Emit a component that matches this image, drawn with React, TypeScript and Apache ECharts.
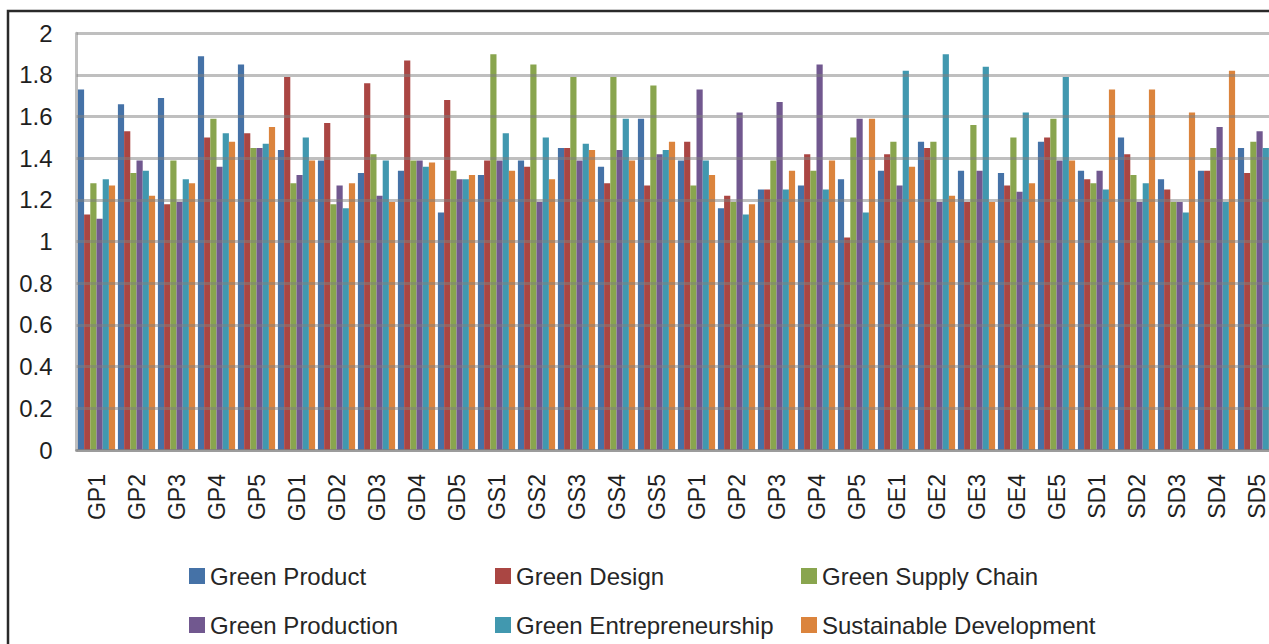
import React, { useEffect, useRef } from "react";
import * as echarts from "echarts";

const categories = [
  "GP1", "GP2", "GP3", "GP4", "GP5",
  "GD1", "GD2", "GD3", "GD4", "GD5",
  "GS1", "GS2", "GS3", "GS4", "GS5",
  "GP1", "GP2", "GP3", "GP4", "GP5",
  "GE1", "GE2", "GE3", "GE4", "GE5",
  "SD1", "SD2", "SD3", "SD4", "SD5",
];

const seriesNames = [
  "Green Product",
  "Green Design",
  "Green Supply Chain",
  "Green Production",
  "Green Entrepreneurship",
  "Sustainable Development",
];

const greenProduct = [
  1.73, 1.66, 1.69, 1.89, 1.85, 1.44, 1.39, 1.33, 1.34, 1.14,
  1.32, 1.39, 1.45, 1.36, 1.59, 1.39, 1.16, 1.25, 1.27, 1.30,
  1.34, 1.48, 1.34, 1.33, 1.48, 1.34, 1.50, 1.30, 1.34, 1.45,
];
const greenDesign = [
  1.13, 1.53, 1.18, 1.50, 1.52, 1.79, 1.57, 1.76, 1.87, 1.68,
  1.39, 1.36, 1.45, 1.28, 1.27, 1.48, 1.22, 1.25, 1.42, 1.02,
  1.42, 1.45, 1.19, 1.27, 1.50, 1.30, 1.42, 1.25, 1.34, 1.33,
];
const greenSupplyChain = [
  1.28, 1.33, 1.39, 1.59, 1.45, 1.28, 1.18, 1.42, 1.39, 1.34,
  1.90, 1.85, 1.79, 1.79, 1.75, 1.27, 1.19, 1.39, 1.34, 1.50,
  1.48, 1.48, 1.56, 1.50, 1.59, 1.28, 1.32, 1.19, 1.45, 1.48,
];
const greenProduction = [
  1.11, 1.39, 1.19, 1.36, 1.45, 1.32, 1.27, 1.22, 1.39, 1.30,
  1.39, 1.19, 1.39, 1.44, 1.42, 1.73, 1.62, 1.67, 1.85, 1.59,
  1.27, 1.19, 1.34, 1.24, 1.39, 1.34, 1.19, 1.19, 1.55, 1.53,
];
const greenEntrepreneurship = [
  1.30, 1.34, 1.30, 1.52, 1.47, 1.50, 1.16, 1.39, 1.36, 1.30,
  1.52, 1.50, 1.47, 1.59, 1.44, 1.39, 1.13, 1.25, 1.25, 1.14,
  1.82, 1.90, 1.84, 1.62, 1.79, 1.25, 1.28, 1.14, 1.19, 1.45,
];
const sustainableDevelopment = [
  1.27, 1.22, 1.28, 1.48, 1.55, 1.39, 1.28, 1.19, 1.38, 1.32,
  1.34, 1.30, 1.44, 1.39, 1.48, 1.32, 1.18, 1.34, 1.39, 1.59,
  1.36, 1.22, 1.19, 1.28, 1.39, 1.73, 1.73, 1.62, 1.82, 1.40,
];

const seriesValues = [
  greenProduct,
  greenDesign,
  greenSupplyChain,
  greenProduction,
  greenEntrepreneurship,
  sustainableDevelopment,
];

const colors = ["#4572A7", "#AA4643", "#89A54E", "#71588F", "#4198AF", "#DB843D"];

const FONT = "'Liberation Sans', Arial, sans-serif";

export default function App() {
  const ref = useRef<HTMLDivElement>(null);

  useEffect(() => {
    if (!ref.current) return;
    const chart = echarts.init(ref.current, null, { renderer: "svg" });
    const legendCols = [
      { left: 189, names: [seriesNames[0], seriesNames[3]] },
      { left: 495, names: [seriesNames[1], seriesNames[4]] },
      { left: 801, names: [seriesNames[2], seriesNames[5]] },
    ];
    chart.setOption({
      animation: false,
      backgroundColor: "#ffffff",
      color: colors,
      graphic: [
        {
          type: "rect",
          shape: { x: 8, y: 11, width: 1600, height: 1000 },
          style: { fill: "none", stroke: "#2a2a2a", lineWidth: 2.5 },
          silent: true,
        },
      ],
      legend: legendCols.map((c) => ({
        orient: "vertical",
        left: c.left,
        top: 564,
        padding: 0,
        itemGap: 25,
        itemWidth: 16,
        itemHeight: 16,
        icon: "rect",
        data: c.names,
        selectedMode: false,
        textStyle: {
          fontFamily: FONT,
          fontSize: 24,
          lineHeight: 24,
          color: "#262626",
        },
      })),
      grid: {
        left: 76.5,
        top: 33.3,
        width: 1200,
        height: 416.7,
        containLabel: false,
      },
      xAxis: {
        type: "category",
        data: categories,
        z: 5,
        axisLine: {
          show: true,
          lineStyle: { color: "rgba(128,128,128,0.55)", width: 3 },
        },
        axisTick: { show: false },
        axisLabel: {
          rotate: 90,
          interval: 0,
          margin: 24,
          fontFamily: FONT,
          fontSize: 23,
          lineHeight: 18,
          color: "#1f1f1f",
        },
      },
      yAxis: {
        type: "value",
        min: 0,
        max: 2,
        interval: 0.2,
        z: 5,
        axisLine: {
          show: true,
          lineStyle: { color: "rgba(128,128,128,0.5)", width: 3 },
        },
        axisTick: { show: false },
        splitLine: {
          show: true,
          lineStyle: { color: "rgba(128,128,128,0.5)", width: 3 },
        },
        axisLabel: {
          margin: 24,
          fontFamily: FONT,
          fontSize: 24,
          color: "#1f1f1f",
        },
      },
      series: seriesNames.map((name, i) => ({
        name,
        type: "bar",
        data: seriesValues[i],
        barGap: "0%",
        barCategoryGap: "7%",
        itemStyle: { color: colors[i] },
      })),
    });
    return () => chart.dispose();
  }, []);

  return (
    <div
      style={{
        position: "fixed",
        left: 0,
        top: 0,
        width: 1269,
        height: 644,
        overflow: "hidden",
        background: "#ffffff",
      }}
    >
      <div ref={ref} style={{ width: 1300, height: 644 }} />
    </div>
  );
}
